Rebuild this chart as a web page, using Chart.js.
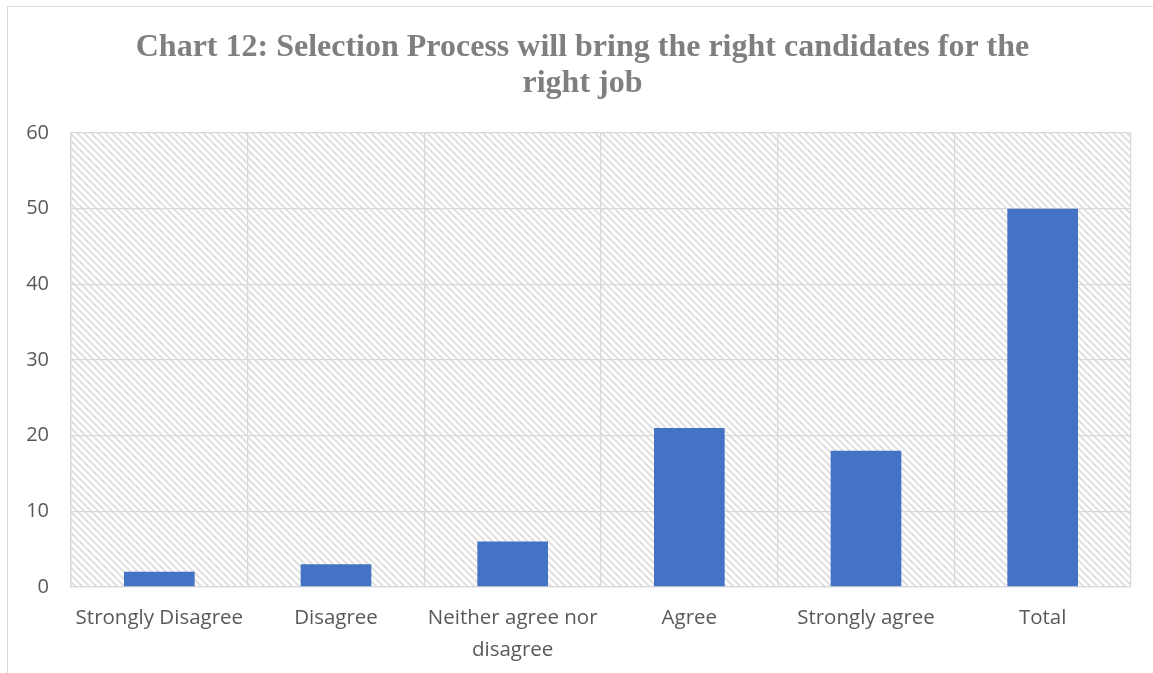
<!DOCTYPE html>
<html>
<head>
<meta charset="utf-8">
<script src="https://cdn.jsdelivr.net/npm/chart.js@4"></script>
<style>
  html, body { margin: 0; padding: 0; background: #fff; overflow: hidden; }
  #wrap { position: relative; width: 1153px; height: 673px; }
  canvas { display: block; }
</style>
</head>
<body>
<div id="wrap"><canvas id="c" width="1153" height="673"></canvas></div>
<script>
const categories = ['Strongly Disagree', 'Disagree', ['Neither agree nor', 'disagree'], 'Agree', 'Strongly agree', 'Total'];
const responses = [2, 3, 6, 21, 18, 50];
const yTicks = [0, 10, 20, 30, 40, 50, 60];
const titleLines = ['Chart 12: Selection Process will bring the right candidates for the', 'right job'];

function makeHatch() {
  const n = 7;
  const p = document.createElement('canvas');
  p.width = n; p.height = n;
  const g = p.getContext('2d');
  g.fillStyle = '#ffffff';
  g.fillRect(0, 0, n, n);
  g.strokeStyle = '#e0e0e0';
  g.lineWidth = 2.0;
  g.beginPath();
  g.moveTo(-1, -1); g.lineTo(n + 1, n + 1);
  g.moveTo(-1, n - 1); g.lineTo(1, n + 1);
  g.moveTo(n - 1, -1); g.lineTo(n + 1, 1);
  g.stroke();
  return g.createPattern(p, 'repeat');
}

const bgPlugin = {
  id: 'bg',
  beforeDraw(chart) {
    const ctx = chart.ctx;
    const a = chart.chartArea;
    ctx.save();
    ctx.fillStyle = makeHatch();
    ctx.fillRect(a.left, a.top, a.right - a.left, a.bottom - a.top);
    ctx.strokeStyle = '#d9d9d9';
    ctx.lineWidth = 1;
    ctx.strokeRect(7.5, 6.5, 1300, 800);
    ctx.restore();
  },
  afterDraw(chart) {
    const ctx = chart.ctx;
    ctx.save();
    ctx.fillStyle = '#7f7f7f';
    ctx.font = 'bold 32px "Liberation Serif", "Times New Roman", serif';
    ctx.textAlign = 'center';
    ctx.textBaseline = 'alphabetic';
    titleLines.forEach((t, i) => ctx.fillText(t, 582.5, 56 + i * 36));
    ctx.restore();
  }
};

new Chart(document.getElementById('c'), {
  type: 'bar',
  data: {
    labels: categories,
    datasets: [{
      data: responses,
      backgroundColor: '#4472C4',
      borderWidth: 0,
      barPercentage: 0.4,
      categoryPercentage: 1.0
    }]
  },
  options: {
    responsive: false,
    animation: false,
    layout: { padding: { left: 0, right: 22, top: 133, bottom: 0 } },
    plugins: {
      legend: { display: false },
      tooltip: { enabled: false },
      title: { display: false }
    },
    scales: {
      x: {
        grid: { color: '#d9d9d9', lineWidth: 1.3, drawTicks: false, offset: true },
        border: { color: '#d9d9d9', width: 1.3 },
        ticks: {
          color: '#595959',
          font: { family: '"Open Sans", "Liberation Sans", sans-serif', size: 20.5, lineHeight: 1.52 },
          padding: 16,
          maxRotation: 0,
          autoSkip: false
        },
        afterFit(scale) { scale.height = 86; }
      },
      y: {
        min: 0,
        max: 60,
        afterBuildTicks(scale) { scale.ticks = yTicks.map(v => ({ value: v })); },
        grid: { color: '#d9d9d9', lineWidth: 1.3, drawTicks: false },
        border: { color: '#d9d9d9', width: 1.3 },
        ticks: {
          color: '#595959',
          font: { family: '"Open Sans", "Liberation Sans", sans-serif', size: 20 },
          padding: 22
        },
        afterFit(scale) { scale.width = 71; }
      }
    }
  },
  plugins: [bgPlugin]
});
</script>
</body>
</html>
